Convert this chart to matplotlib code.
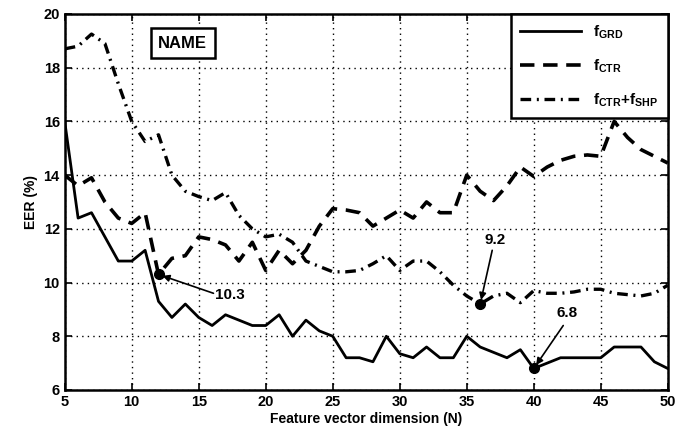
import matplotlib
matplotlib.use('Agg')
import matplotlib.pyplot as plt
import numpy as np

plt.rcParams['font.family'] = ['Liberation Sans', 'DejaVu Sans']
plt.rcParams['font.weight'] = 'bold'
plt.rcParams['mathtext.fontset'] = 'custom'
plt.rcParams['mathtext.rm'] = 'Liberation Sans:bold'
plt.rcParams['mathtext.bf'] = 'Liberation Sans:bold'
plt.rcParams['mathtext.it'] = 'Liberation Sans:bold'

# feature vector dimension N = 5..50
dims = list(range(5, 51))

# EER (%)
eer_grd = [16.0, 12.4, 12.6, 11.7, 10.8, 10.8, 11.2, 9.3, 8.7, 9.2,
           8.7, 8.4, 8.8, 8.6, 8.4, 8.4, 8.8, 8.0, 8.6, 8.2,
           8.0, 7.2, 7.2, 7.05, 8.0, 7.35, 7.2, 7.6, 7.2, 7.2,
           8.0, 7.6, 7.4, 7.2, 7.5, 6.8, 7.0, 7.2, 7.2, 7.2,
           7.2, 7.6, 7.6, 7.6, 7.05, 6.8]
eer_ctr = [14.0, 13.6, 13.9, 13.0, 12.4, 12.2, 12.6, 10.3, 10.9, 11.0,
           11.7, 11.6, 11.4, 10.8, 11.5, 10.45, 11.2, 10.7, 11.2, 12.1,
           12.75, 12.7, 12.6, 12.1, 12.4, 12.7, 12.4, 13.0, 12.6, 12.6,
           14.0, 13.4, 13.05, 13.6, 14.3, 13.95, 14.3, 14.55, 14.7, 14.75,
           14.7, 16.0, 15.4, 14.95, 14.7, 14.45]
eer_ctr_shp = [18.7, 18.8, 19.25, 18.9, 17.4, 16.0, 15.25, 15.5, 14.0, 13.4,
               13.2, 13.05, 13.35, 12.5, 12.0, 11.7, 11.8, 11.5, 10.8, 10.6,
               10.4, 10.4, 10.45, 10.7, 11.0, 10.45, 10.8, 10.8, 10.4, 9.9,
               9.5, 9.2, 9.5, 9.6, 9.25, 9.7, 9.6, 9.6, 9.65, 9.75,
               9.75, 9.6, 9.55, 9.5, 9.6, 9.9]

# minima that are marked on the chart
min_x = [12, 36, 40]
min_y = [10.3, 9.2, 6.8]
min_labels = ['10.3', '9.2', '6.8']

fig = plt.figure(figsize=(6.92, 4.37), dpi=100)
ax = fig.add_axes([0.0935, 0.1076, 0.8715, 0.8605])

ax.plot(dims, eer_grd, color='k', lw=2.0, ls='-', label=r'f$_{\rm GRD}$')
ax.plot(dims, eer_ctr, color='k', lw=2.6, ls=(0, (4.0, 2.4)), label=r'f$_{\rm CTR}$')
ax.plot(dims, eer_ctr_shp, color='k', lw=2.4, ls=(0, (3.2, 1.7, 0.6, 1.7)),
        label=r'f$_{\rm CTR}$+f$_{\rm SHP}$')

ax.plot(min_x, min_y, 'o', color='k', ms=7, zorder=5)

text_pos = [(17.3, 9.55), (37.1, 11.6), (42.5, 8.85)]
arrow_start = [(16.1, 9.6), (36.9, 11.2), (42.2, 8.4)]
for (mx, my, lab, (tx, ty), (sx, sy)) in zip(min_x, min_y, min_labels, text_pos, arrow_start):
    ax.annotate('', xy=(mx, my), xytext=(sx, sy),
                arrowprops=dict(arrowstyle='-|>', color='k', lw=1.2,
                                mutation_scale=10, shrinkA=0, shrinkB=3))
    ax.text(tx, ty, lab, fontsize=11, fontweight='bold', ha='center', va='center')

ax.text(13.8, 18.9, 'NAME', fontsize=12, fontweight='bold', ha='center', va='center',
        bbox=dict(boxstyle='square,pad=0.45', fc='white', ec='k', lw=1.8))

ax.set_xlim(5, 50)
ax.set_ylim(6, 20)
ax.set_xticks(range(5, 51, 5))
ax.set_yticks(range(6, 21, 2))
ax.grid(True, color='k', ls=(0, (1, 3)), lw=1.0)
ax.tick_params(direction='in', top=True, right=True, length=5, width=1.2,
               labelsize=10.5)
for sp in ax.spines.values():
    sp.set_linewidth(1.8)

ax.set_xlabel('Feature vector dimension (N)', fontsize=10, fontweight='bold', labelpad=2)
ax.set_ylabel('EER (%)', fontsize=10, fontweight='bold', labelpad=4)

leg = ax.legend(loc='upper right', fontsize=11, handlelength=4, labelspacing=1.1,
                borderaxespad=0, borderpad=0.6, fancybox=False, framealpha=1,
                edgecolor='k')
leg.get_frame().set_linewidth(1.8)

plt.savefig('out.png', dpi=100)
